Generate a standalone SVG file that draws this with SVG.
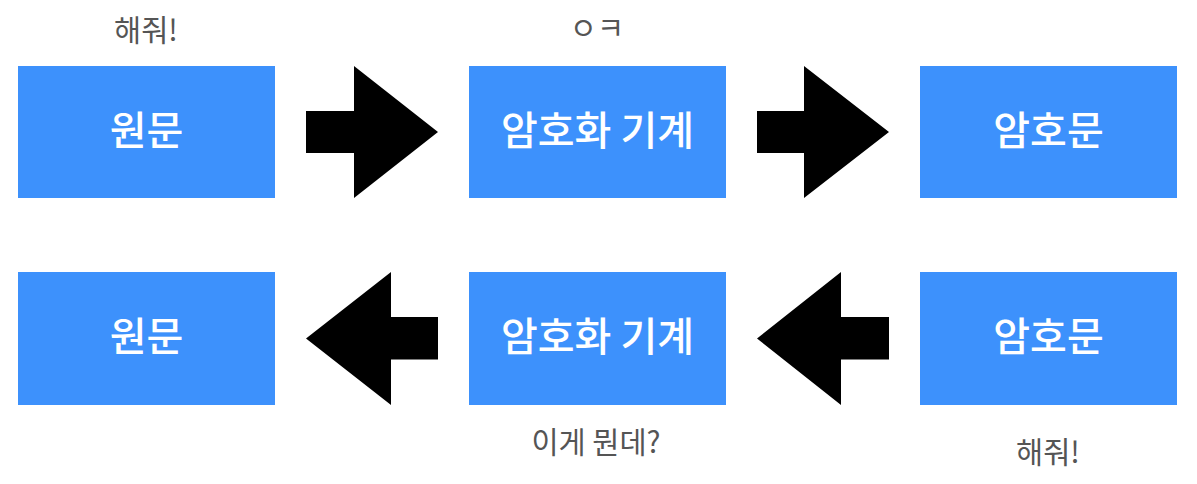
<svg xmlns="http://www.w3.org/2000/svg" width="1197" height="484" viewBox="0 0 1197 484">
<style>
.box{fill:#3d91fc}
.bt{fill:#ffffff;font-family:"Noto Sans CJK KR","Noto Sans",sans-serif;font-size:40px;font-weight:500;text-anchor:middle}
.lb{fill:#555555;font-family:"Noto Sans CJK KR","Noto Sans",sans-serif;font-size:29.5px;text-anchor:middle}
.arr{fill:#000000}
</style>
<rect width="1197" height="484" fill="#ffffff"/>
<g id="n1"><rect class="box" x="18" y="66" width="257" height="132"/><text class="bt" x="146.5" y="145">원문</text></g>
<g id="n2"><rect class="box" x="469" y="66" width="257" height="132"/><text class="bt" x="597.5" y="145">암호화 기계</text></g>
<g id="n3"><rect class="box" x="920" y="66" width="257" height="132"/><text class="bt" x="1048.5" y="145">암호문</text></g>
<g id="n4"><rect class="box" x="18" y="272" width="257" height="133"/><text class="bt" x="146.5" y="351">원문</text></g>
<g id="n5"><rect class="box" x="469" y="272" width="257" height="133"/><text class="bt" x="597.5" y="351">암호화 기계</text></g>
<g id="n6"><rect class="box" x="920" y="272" width="257" height="133"/><text class="bt" x="1048.5" y="351">암호문</text></g>
<g id="connectors">
<polygon class="arr" points="306,111 354,111 354,66 438,132 354,198 354,153 306,153"/>
<polygon class="arr" points="757,111 804,111 804,66 889,132 804,198 804,153 757,153"/>
<polygon class="arr" points="889,317 841,317 841,272 757,338.5 841,405 841,359.5 889,359.5"/>
<polygon class="arr" points="438,317 391,317 391,272 306,338.5 391,405 391,359.5 438,359.5"/>
</g>
<g id="labels">
<text class="lb" x="146" y="41">해줘!</text>
<text class="lb" x="597" y="39">ㅇㅋ</text>
<text class="lb" x="596" y="453">이게 뭔데?</text>
<text class="lb" x="1048" y="463">해줘!</text>
</g>
</svg>
